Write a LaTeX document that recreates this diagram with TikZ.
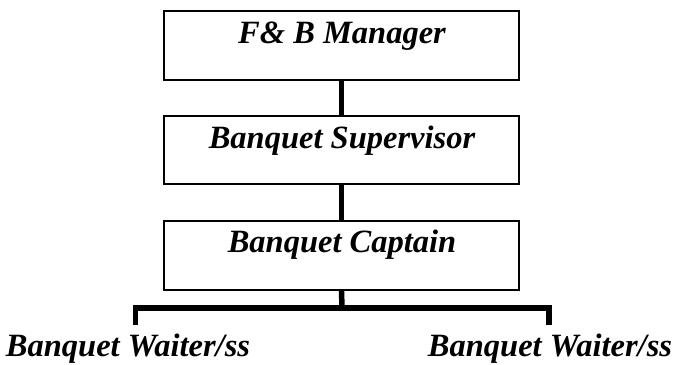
\documentclass[tikz,border=0pt]{standalone}
\usepackage{fontspec}
\setmainfont{Liberation Serif}
\begin{document}
\begin{tikzpicture}[x=1pt,y=-1pt,
  box/.style={draw,line width=1.5pt,minimum width=355pt,minimum height=69pt,inner sep=0pt},
  lbl/.style={font=\fontsize{32.5}{38}\selectfont\bfseries\itshape,anchor=base,inner sep=0pt},
  conn/.style={line width=5.5pt,line join=miter}]
\useasboundingbox (0,0) rectangle (674,364);
\node[box] (b1) at (341.5,45.5) {};
\node[lbl] (t1) at (342,43) {F\& B Manager};
\node[box,minimum height=68pt] (b2) at (341.5,150) {};
\node[lbl] (t2) at (342,148) {Banquet Supervisor};
\node[box] (b3) at (341.5,255.5) {};
\node[lbl] (t3) at (342,252) {Banquet Captain};
\coordinate (j) at (342,308);
\coordinate (l) at (135.5,308);
\coordinate (r) at (549,308);
\coordinate (le) at (135.5,325);
\coordinate (re) at (549,325);
\node[lbl] (w1) at (128,356) {Banquet Waiter/ss};
\node[lbl] (w2) at (550,356) {Banquet Waiter/ss};
\draw[conn] (b1.south) -- (b2.north);
\draw[conn] (b2.south) -- (b3.north);
\draw[conn] (b3.south) -- (j);
\draw[conn] (le) -- (l) -- (r) -- (re);
\end{tikzpicture}
\end{document}
